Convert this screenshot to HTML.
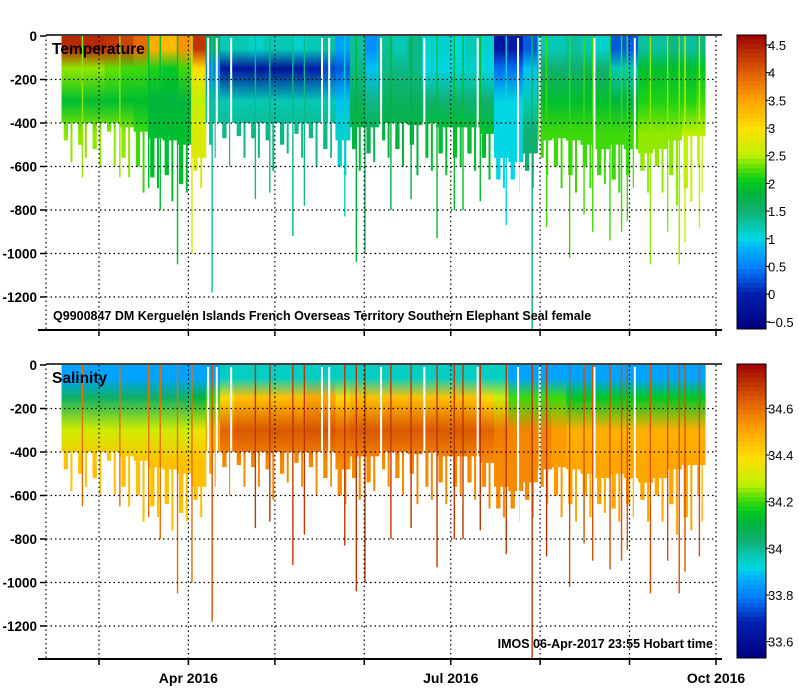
<!DOCTYPE html>
<html><head><meta charset="utf-8">
<style>
html,body{margin:0;padding:0;background:#fff;}
svg{display:block;font-family:"Liberation Sans",sans-serif;}
</style></head>
<body>
<svg id="chart" width="799" height="700" viewBox="0 0 799 700" xmlns="http://www.w3.org/2000/svg">
<defs id="defs"></defs>
<g id="top-panel"></g>
<g id="bottom-panel"></g>
</svg>
<script>
// ---- data ----
const colDays = [-13,-8,-3,2,7,12,17,22,27,32,37,42,47,52,57,62,67,72,77,82,87,92,97,102,107,112,117,122,127,132,137,142,147,152,157,162,167,172,177,182,187,192,197,202,207];
const colDepth = [400,400,400,400,420,440,470,480,500,560,400,400,400,400,400,400,400,400,400,480,420,420,400,400,410,400,420,420,420,450,560,580,540,480,470,480,500,520,500,520,540,520,480,460,460];
const fringeA = [480,500,520,440,560,600,650,640,680,620,500,470,460,470,480,500,450,470,520,600,520,540,480,520,500,560,540,560,540,560,660,660,620,560,600,640,600,640,660,640,620,600,640,700,600];
const fringeB = [580,560,600,600,650,720,700,760,720,700,560,600,560,560,620,540,560,600,560,640,620,580,560,600,640,620,640,600,620,660,700,720,700,640,700,720,700,680,720,700,720,720,780,760,720];
const tempSurf = [4.4,4.4,4.4,4.3,4.2,3.9,3.4,3.3,3.6,4.3,1.6,1.2,1.2,1.1,1.2,1.2,1.1,1.2,1.3,0.7,1.3,0.6,1.3,1.2,1.4,1.1,1.1,1.0,1.2,1.1,-0.2,-0.1,0.3,1.2,1.2,1.3,1.2,1.1,0.3,0.3,1.3,1.3,1.4,1.3,1.4];
const temp150 = [2.4,2.4,2.4,2.3,2.2,2.2,2.1,2.0,2.2,3.0,0.5,-0.2,-0.2,-0.3,-0.2,-0.3,-0.2,-0.1,0.2,0.3,1.4,0.9,1.4,1.4,1.4,1.0,1.0,1.0,1.1,1.0,0.4,0.4,0.9,1.5,1.5,1.5,1.6,1.5,1.2,1.2,1.9,1.9,1.9,1.9,2.0];
const temp300 = [1.9,1.9,1.9,1.9,1.9,1.9,1.8,1.8,1.8,2.5,1.3,1.2,1.2,1.2,1.2,1.2,1.2,1.2,1.2,0.9,1.6,1.4,1.6,1.6,1.6,1.5,1.5,1.5,1.5,1.5,1.0,1.0,1.2,1.9,1.9,1.9,1.9,1.9,1.8,1.8,2.1,2.1,2.1,2.1,2.2];
const tempDeep = [2.4,2.4,2.4,2.4,2.4,2.2,1.9,1.9,1.9,2.7,1.3,1.4,1.4,1.4,1.4,1.4,1.4,1.4,1.4,1.1,1.8,1.7,1.8,1.8,1.8,1.9,1.9,1.9,1.9,1.9,1.0,1.0,1.5,2.2,2.2,2.2,2.2,2.2,2.2,2.2,2.4,2.4,2.4,2.5,2.5];
const salSurf = [33.85,33.85,33.85,33.85,33.85,33.85,33.85,33.85,33.85,33.85,33.85,33.95,33.95,33.95,33.95,33.95,33.95,33.95,33.95,33.95,33.95,33.95,33.95,33.95,33.95,33.95,33.95,33.95,33.95,33.95,33.95,33.85,33.85,33.85,33.85,33.85,33.85,33.85,33.85,33.85,33.85,33.85,33.85,33.85,33.85];
const sal150 = [34.05,34.05,34.05,34.05,34.05,34.05,34.05,34.05,34.05,34.1,34.2,34.4,34.45,34.45,34.45,34.45,34.45,34.5,34.5,34.4,34.45,34.45,34.45,34.45,34.45,34.45,34.45,34.45,34.45,34.4,34.3,34.2,34.2,34.2,34.2,34.15,34.15,34.15,34.15,34.15,34.15,34.15,34.15,34.15,34.15];
const sal300 = [34.3,34.3,34.3,34.3,34.3,34.3,34.3,34.3,34.3,34.35,34.5,34.62,34.64,34.64,34.64,34.64,34.64,34.65,34.65,34.62,34.64,34.64,34.64,34.64,34.64,34.64,34.64,34.64,34.64,34.62,34.58,34.56,34.56,34.56,34.52,34.48,34.48,34.48,34.48,34.48,34.48,34.48,34.48,34.48,34.48];
const salDeep = [34.45,34.45,34.45,34.45,34.45,34.45,34.45,34.45,34.45,34.45,34.5,34.55,34.55,34.55,34.55,34.55,34.55,34.55,34.55,34.55,34.55,34.55,34.55,34.55,34.55,34.55,34.55,34.55,34.55,34.55,34.55,34.55,34.55,34.55,34.52,34.5,34.5,34.5,34.5,34.5,34.5,34.5,34.5,34.5,34.5];
const spikeDays = [-6,7,17,21,27,32,39,54,59,67,71,85,89,92,101,108,117,123,126,132,141,150,155,163,168,171,177,181,183,191,197,201,203,208];
const spikeDepth = [650,650,700,800,1050,1000,1180,750,720,920,780,830,1040,1000,800,750,930,800,800,760,870,1350,880,1020,820,900,940,900,850,1050,900,1050,950,880];
const gapDays = [37.5,40.5,45.5,77,79.5,97.5,112.5,131,145,152.5,171.5,185.5];
const yTicks = [0,-200,-400,-600,-800,-1000,-1200];
const monthDays = [0,31,61,92,122,153,184,214];
const monthLabels = ["","Apr 2016","","","Jul 2016","","","Oct 2016"];
const tempCbTicks = [4.5,4,3.5,3,2.5,2,1.5,1,0.5,0,-0.5];
const salCbTicks = [34.6,34.4,34.2,34,33.8,33.6];
// ---- scales ----
const NS="http://www.w3.org/2000/svg";
const X0=99, XK=(716-99)/214;
function xS(d){return X0+d*XK;}
function yS(depth,top){return top+1+depth*0.2175;}
const cmap=[[0,[0,0,128]],[0.12,[0,32,176]],[0.21,[0,128,255]],[0.27,[0,176,255]],[0.31,[0,216,224]],[0.40,[16,176,112]],[0.46,[0,180,60]],[0.50,[0,204,32]],[0.55,[96,224,0]],[0.59,[192,240,0]],[0.68,[255,224,0]],[0.78,[255,160,0]],[0.87,[224,96,0]],[0.96,[176,32,0]],[1,[160,0,0]]];
function col(f){f=Math.max(0,Math.min(1,f));for(let i=1;i<cmap.length;i++){if(f<=cmap[i][0]){const a=cmap[i-1],b=cmap[i];const t=(f-a[0])/(b[0]-a[0]);const c=a[1].map((v,k)=>Math.round(v+(b[1][k]-v)*t));return `rgb(${c[0]},${c[1]},${c[2]})`;}}return 'rgb(160,0,0)';}
function mk(tag,attrs,parent){const e=document.createElementNS(NS,tag);for(const k in attrs)e.setAttribute(k,attrs[k]);parent.appendChild(e);return e;}
const defs=document.getElementById('defs');
function panel(g,top,vals,vmin,vmax,title,gid,spikeBoost){
  const f=v=>(v-vmin)/(vmax-vmin);
  const [s,m,t3,dp]=vals;
  for(let i=0;i<colDays.length;i++){
    const x1=xS(colDays[i]);const x2=i<colDays.length-1?xS(colDays[i+1]):705;
    const w=x2-x1;
    const grad=mk('linearGradient',{id:gid+i,gradientUnits:'userSpaceOnUse',x1:0,x2:0,y1:yS(0,top),y2:yS(600,top)},defs);
    [[0,s[i]],[0.1,s[i]],[0.25,m[i]],[0.5,t3[i]],[0.75,dp[i]],[1,dp[i]]].forEach(p=>mk('stop',{offset:p[0],'stop-color':col(f(p[1]))},grad));
    const r=mk('rect',{x:x1,y:yS(0,top),width:w+0.6,height:yS(colDepth[i],top)-yS(0,top),fill:`url(#${gid+i})`},g);
    
    
    const fa=mk('rect',{x:x1+w*0.15,y:yS(0,top),width:w*0.3,height:yS(fringeA[i],top)-yS(0,top),fill:`url(#${gid+i})`},g);
    
    
    const fb=mk('rect',{x:x1+w*0.62,y:yS(0,top),width:w*0.14,height:yS(fringeB[i],top)-yS(0,top),fill:`url(#${gid+i})`},g);
    
    
  }
  for(let j=0;j<spikeDays.length;j++){
    let ci=0;for(let i=0;i<colDays.length;i++)if(colDays[i]<=spikeDays[j])ci=i;
    const r=mk('rect',{x:xS(spikeDays[j]),y:yS(0,top),width:1.4,height:yS(spikeDepth[j],top)-yS(0,top),fill:col(f(dp[ci]+spikeBoost))},g);
    
    
  }
  for(let j=0;j<gapDays.length;j++){
    const r=mk('rect',{x:xS(gapDays[j]),y:yS(0,top)+2,width:2,height:yS(900,top)-yS(0,top),fill:'#fff'},g);
    
    
  }
  const bot=top+295;
  yTicks.forEach(v=>{const y=yS(-v,top);
    if(v!==0){const l=mk('line',{x1:46,x2:716,y1:y,y2:y,stroke:'#000','stroke-width':1.2,'stroke-dasharray':'1.5,3'},g);}
    mk('line',{x1:40,x2:46,y1:y,y2:y,stroke:'#000','stroke-width':1.5},g);
    const t=mk('text',{x:37,y:y+5,'text-anchor':'end','font-size':13.5,'font-weight':'bold'},g);t.textContent=v;
    
  });
  monthDays.forEach((d,i)=>{const x=xS(d);
    const l=mk('line',{x1:x,x2:x,y1:top+1,y2:bot,stroke:'#000','stroke-width':1.2,'stroke-dasharray':'1.5,3'},g);
    mk('line',{x1:x,x2:x,y1:bot,y2:bot+6,stroke:'#000','stroke-width':1.5},g);
  });
  mk('line',{x1:46,x2:46,y1:top,y2:bot,stroke:'#000','stroke-width':1.2,'stroke-dasharray':'1.5,3'},g);
  mk('line',{x1:38,x2:722,y1:bot,y2:bot,stroke:'#000','stroke-width':2},g);
  mk('line',{x1:46,x2:722,y1:top,y2:top,stroke:'#000','stroke-width':1.5},g);
  const tt=mk('text',{x:52,y:top+19,'font-size':15.5,'font-weight':'bold',fill:'#000'},g);tt.textContent=title;
  
  const cb=mk('g',{},g);
  const n=64,h=294/n;
  for(let k=0;k<n;k++)mk('rect',{x:737,y:top+k*h,width:29,height:h+0.5,fill:col(1-(k+0.5)/n)},cb);
  mk('rect',{x:737,y:top,width:29,height:294,fill:'none',stroke:'#000','stroke-width':1},cb);
}
const topG=document.getElementById('top-panel'),botG=document.getElementById('bottom-panel');
panel(topG,35,[tempSurf,temp150,temp300,tempDeep],-0.63,4.68,'Temperature','tg',0);
panel(botG,364,[salSurf,sal150,sal300,salDeep],33.53,34.79,'Salinity','sg',0.15);
function cbTicks(g,top,ticks,vmin,vmax,fmt){
  ticks.forEach(v=>{const y=top+294*(1-(v-vmin)/(vmax-vmin));
    mk('line',{x1:766,x2:770,y1:y,y2:y,stroke:'#000'},g);
    const t=mk('text',{x:768,y:y+5,'font-size':13},g);t.textContent=fmt(v);
    });
}
cbTicks(topG,35,tempCbTicks,-0.63,4.68,v=>String(v).replace('-','\u2212'));
cbTicks(botG,364,salCbTicks,33.53,34.79,v=>v.toFixed(1).replace(/\.0$/,''));
monthLabels.forEach((lab,i)=>{if(!lab)return;const t=mk('text',{x:xS(monthDays[i]),y:683,'text-anchor':'middle','font-size':14,'font-weight':'bold'},botG);t.textContent=lab;
  });
const n1=mk('text',{x:53,y:320,'font-size':12.5,'font-weight':'bold'},topG);n1.textContent='Q9900847 DM Kerguelen Islands French Overseas Territory Southern Elephant Seal  female';

const n2=mk('text',{x:713,y:648,'text-anchor':'end','font-size':12.5,'font-weight':'bold'},botG);n2.textContent='IMOS 06-Apr-2017 23:55 Hobart time';

</script>
</body></html>
